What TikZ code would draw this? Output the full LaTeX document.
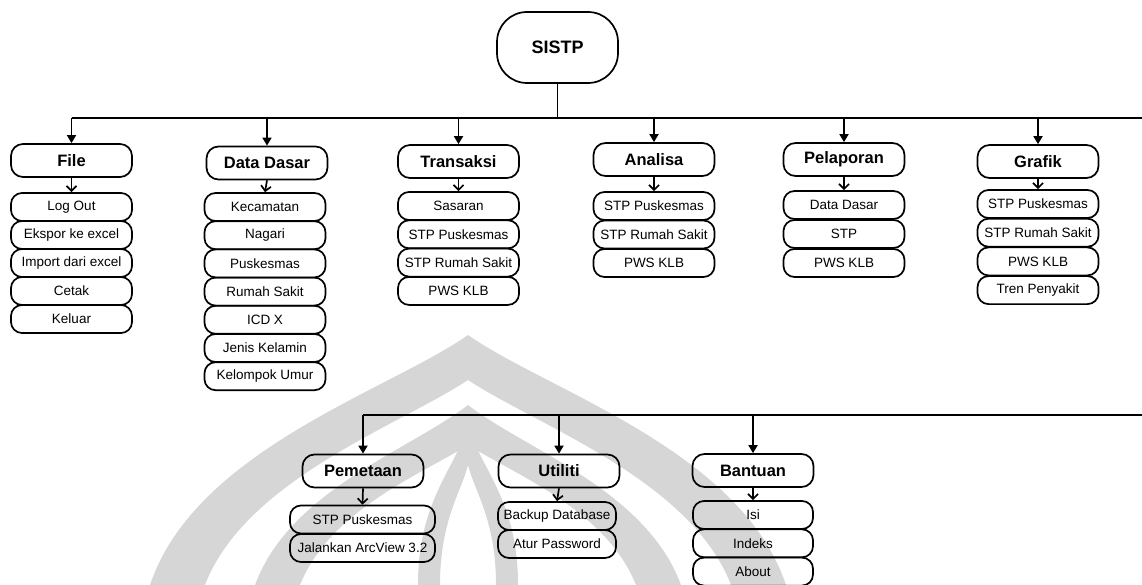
\documentclass[tikz,border=0pt]{standalone}
\usepackage{fontspec}
\setmainfont{Liberation Sans}
\usetikzlibrary{arrows.meta}

\begin{document}
\begin{tikzpicture}[x=1pt,y=-1pt,
  box/.style={draw, line width=1.7pt, inner sep=0pt, align=center},
  root/.style={box, rounded corners=30pt, minimum width=121pt, minimum height=71pt,
    font=\fontsize{18}{18}\selectfont\bfseries},
  head/.style={box, rounded corners=12pt, minimum width=121pt, minimum height=33pt,
    font=\fontsize{16.5}{16.5}\selectfont\bfseries},
  item/.style={box, rounded corners=11pt, minimum width=121pt, minimum height=28pt,
    font=\fontsize{13.5}{13.5}\selectfont},
  bus/.style={line width=1.7pt},
  down/.style={line width=1.7pt, -{Triangle[length=8pt,width=9pt]}},
  sub/.style={line width=1.7pt, -{Straight Barb[length=5pt,width=10pt]}},
  logo/.style={fill=black!16, draw=none, even odd rule},
]
\useasboundingbox (0,0) rectangle (1142,585);

% faint emblem in the background
\fill[logo] (150,585) .. controls (195,450) and (390,390) .. (468,335)
            .. controls (546,390) and (741,450) .. (786,585) -- cycle
            (205,585) .. controls (245,480) and (400,425) .. (468,380)
            .. controls (536,425) and (691,480) .. (731,585) -- cycle;
\fill[logo] (255,585) .. controls (290,490) and (410,450) .. (468,405)
            .. controls (526,450) and (646,490) .. (681,585) -- cycle
            (300,585) .. controls (330,510) and (420,475) .. (468,445)
            .. controls (516,475) and (606,510) .. (636,585) -- cycle;
\fill[logo] (418,585) .. controls (418,500) and (455,470) .. (468,425)
            .. controls (481,470) and (518,500) .. (518,585) -- cycle
            (440,585) .. controls (440,520) and (462,490) .. (468,465)
            .. controls (474,490) and (496,520) .. (496,585) -- cycle;

% root
\node[root] (sistp) at (557.5,47.5) {SISTP};

% first row of menus
\node[head] (file)  at (71.5,160.5)  {File};
\node[head] (dd)    at (267,163)     {Data Dasar};
\node[head] (trans) at (458.5,161.5) {Transaksi};
\node[head] (anal)  at (654,159.5)   {Analisa};
\node[head] (lap)   at (844,159.5)   {Pelaporan};
\node[head] (graf)  at (1038,161.5)  {Grafik};

\coordinate (busL) at (71.5,118);
\coordinate (busR) at (1142,118);
\draw[bus] (busL) -- (busR);
\draw[bus] (sistp.south) -- (sistp.south |- busR);
\foreach \m in {file,dd,trans,anal,lap,graf}
  \draw[down] (\m.north |- busR) -- (\m.north);

% sub-menus of the first row
\foreach \t [count=\i] in {Log Out, Ekspor ke excel, Import dari excel, Cetak, Keluar}
  \node[item] (file\i) at (71.5,{207+28*(\i-1)}) {\t};
\foreach \t [count=\i] in {Kecamatan, Nagari, Puskesmas, Rumah Sakit, ICD X, Jenis Kelamin, Kelompok Umur}
  \node[item] (dd\i) at (265,{207+28.2*(\i-1)}) {\t};
\foreach \t [count=\i] in {Sasaran, STP Puskesmas, STP Rumah Sakit, PWS KLB}
  \node[item] (trans\i) at (458.5,{206+28.3*(\i-1)}) {\t};
\foreach \t [count=\i] in {STP Puskesmas, STP Rumah Sakit, PWS KLB}
  \node[item] (anal\i) at (654,{206+28.5*(\i-1)}) {\t};
\foreach \t [count=\i] in {Data Dasar, STP, PWS KLB}
  \node[item] (lap\i) at (844,{205+29*(\i-1)}) {\t};
\foreach \t [count=\i] in {STP Puskesmas, STP Rumah Sakit, PWS KLB, Tren Penyakit}
  \node[item] (graf\i) at (1038,{204+28.7*(\i-1)}) {\t};

\foreach \m in {file,dd,trans,anal,lap,graf}
  \draw[sub] (\m.south) -- (\m1.north);

% second row of menus
\node[head] (peta) at (363,471)   {Pemetaan};
\node[head] (util) at (559,471)   {Utiliti};
\node[head] (bant) at (753,470.5) {Bantuan};

\coordinate (bus2L) at (363,415);
\coordinate (bus2R) at (1142,415);
\draw[bus] (bus2L) -- (bus2R);
\foreach \m in {peta,util,bant}
  \draw[down] (\m.north |- bus2R) -- (\m.north);

\foreach \t [count=\i] in {STP Puskesmas, Jalankan ArcView 3.2}
  \node[item, minimum width=145pt] (peta\i) at (362.5,{519.5+28.5*(\i-1)}) {\t};
\foreach \t [count=\i] in {Backup Database, Atur Password}
  \node[item, minimum width=118pt] (util\i) at (557,{516+28*(\i-1)}) {\t};
\foreach \t [count=\i] in {Isi, Indeks, About}
  \node[item, minimum width=120pt] (bant\i) at (753,{515+28.3*(\i-1)}) {\t};

\foreach \m in {peta,util,bant}
  \draw[sub] (\m.south) -- (\m1.north);
\end{tikzpicture}
\end{document}
